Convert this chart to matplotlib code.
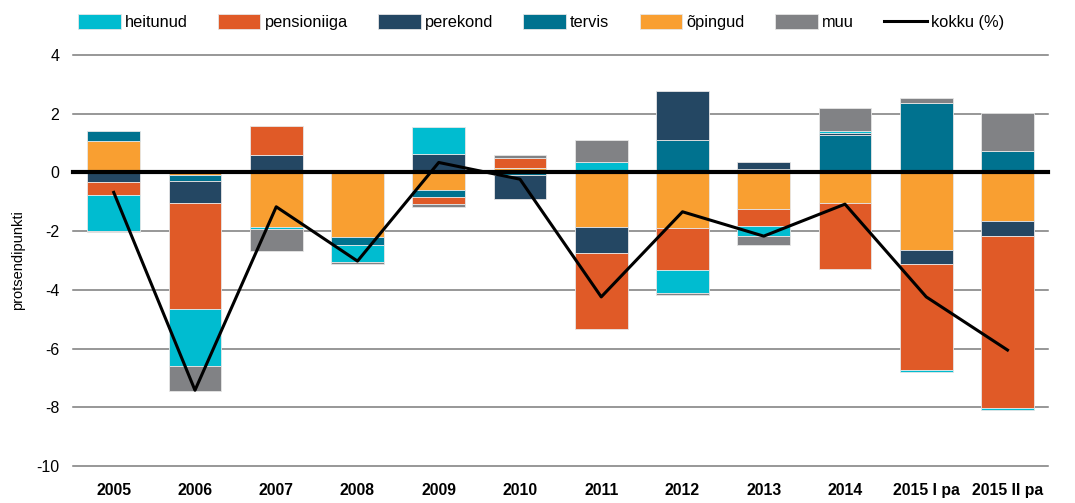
import matplotlib
matplotlib.use("Agg")
import matplotlib.pyplot as plt
import numpy as np

plt.rcParams['font.family'] = ['Liberation Sans', 'DejaVu Sans']

aastad = ['2005', '2006', '2007', '2008', '2009', '2010', '2011', '2012',
          '2013', '2014', '2015 I pa', '2015 II pa']

# panused protsendipunktides (loetud jooniselt)
heitunud    = [-1.21, -1.93, -0.06, -0.57,  0.94,  0.00,  0.34, -0.79, -0.34,  0.06, -0.05, -0.05]
pensioniiga = [-0.44, -3.61,  0.99,  0.05, -0.21,  0.36, -2.57, -1.44, -0.57, -2.25, -3.63, -5.89]
perekond    = [-0.34, -0.75,  0.59,  0.05,  0.62, -0.83, -0.89,  1.68,  0.25,  0.07, -0.47, -0.48]
tervis      = [ 0.34, -0.22,  0.00, -0.27, -0.25, -0.09,  0.00,  1.09,  0.11,  1.27,  2.36,  0.74]
opingud     = [ 1.07, -0.08, -1.86, -2.21, -0.60,  0.14, -1.86, -1.89, -1.26, -1.03, -2.64, -1.67]
muu         = [-0.05, -0.85, -0.77, -0.07, -0.11,  0.11,  0.78, -0.04, -0.30,  0.78,  0.18,  1.27]
kokku       = [-0.68, -7.42, -1.17, -3.02,  0.34, -0.23, -4.24, -1.34, -2.17, -1.08, -4.24, -6.05]

seeriad = {
    'heitunud': (heitunud, '#00bcd0'),
    'pensioniiga': (pensioniiga, '#e05a27'),
    'perekond': (perekond, '#244763'),
    'tervis': (tervis, '#00728f'),
    'õpingud': (opingud, '#f99f31'),
    'muu': (muu, '#818285'),
}
# järjekord, milles tulbad nullist väljapoole laotakse
ladumine = ['õpingud', 'tervis', 'perekond', 'pensioniiga', 'heitunud', 'muu']

fig = plt.figure(figsize=(10.75, 5.03), dpi=100)
ax = fig.add_axes([0.068, 0.0736, 0.907, 0.817])

x = np.arange(len(aastad))
pos_alus = np.zeros(len(aastad))
neg_alus = np.zeros(len(aastad))
ribad = {}
for nimi in ladumine:
    v, varv = seeriad[nimi]
    v = np.array(v)
    alus = np.where(v >= 0, pos_alus, neg_alus)
    ribad[nimi] = ax.bar(x, v, 0.65, bottom=alus, color=varv,
                         edgecolor='#e6e6e6', linewidth=0.6, zorder=3)
    pos_alus += np.where(v > 0, v, 0)
    neg_alus += np.where(v < 0, v, 0)

joon, = ax.plot(x, kokku, color='black', lw=2.2, zorder=5)

# ruudustik
for y in range(-10, 5, 2):
    if y == 0:
        ax.axhline(0, color='black', lw=3, zorder=4, clip_on=False)
    else:
        ax.axhline(y, color='#7a7a7a', lw=1.1, zorder=1, clip_on=False)

ax.set_xlim(-0.5, 11.5)
ax.set_ylim(-10, 4)
ax.set_yticks(range(-10, 5, 2))
ax.set_yticklabels([str(t) for t in range(-10, 5, 2)], fontsize=11.5)
ax.set_xticks(x)
ax.set_xticklabels(aastad, fontsize=11.3, fontweight='bold')
ax.tick_params(axis='both', length=0)
ax.tick_params(axis='y', pad=10)
ax.tick_params(axis='x', pad=12)
for s in ax.spines.values():
    s.set_visible(False)
ax.set_ylabel('protsendipunkti', fontsize=10.5, labelpad=8)

kasitsejad = [ribad[n] for n in seeriad] + [joon]
nimed = list(seeriad) + ['kokku (%)']
ax.legend(kasitsejad, nimed, ncol=7, frameon=False, fontsize=11.8,
          loc='lower left', bbox_to_anchor=(0.005, 1.06), borderaxespad=0,
          borderpad=0, handlelength=2.6, handleheight=1.0,
          handletextpad=0.25, columnspacing=1.85)

fig.savefig('out.png', dpi=100)
